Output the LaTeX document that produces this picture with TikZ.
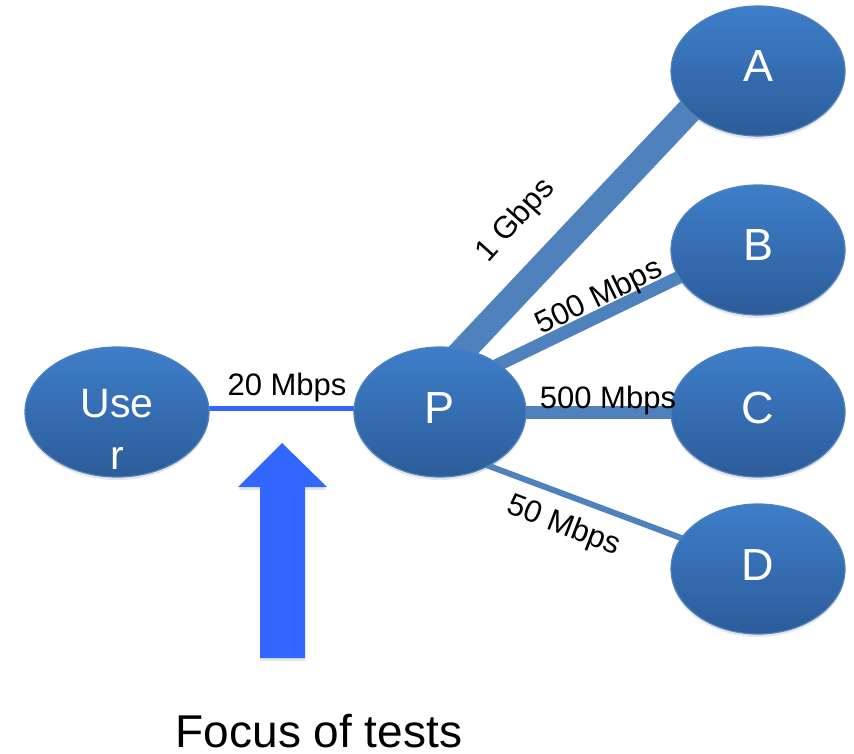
\documentclass[tikz,border=0pt]{standalone}
\usepackage{fontspec}
\setmainfont{Liberation Sans}
\usetikzlibrary{shapes.geometric,backgrounds,shadows}
\definecolor{nodetop}{RGB}{62,126,201}
\definecolor{nodebot}{RGB}{44,92,153}
\definecolor{nodeedge}{RGB}{79,129,189}
\definecolor{linkblue}{RGB}{79,129,189}
\definecolor{brightblue}{RGB}{51,102,255}
\begin{document}
\begin{tikzpicture}[x=1pt,y=-1pt,
  bubble/.style={ellipse, minimum width=174pt, minimum height=130pt,
    inner sep=0pt, outer sep=0pt, top color=nodetop, bottom color=nodebot,
    draw=nodeedge, line width=1.2pt, text=white,
    font=\fontsize{45}{54}\selectfont, text height=32pt, text depth=10pt,
    drop shadow={opacity=0.2, shadow xshift=0pt, shadow yshift=-3pt}},
  usertxt/.style={text=white, font=\fontsize{41}{49}\selectfont, inner sep=0pt, anchor=base},
  link/.style={draw=linkblue, shorten <=-14pt, shorten >=-14pt},
  rate/.style={font=\fontsize{31}{37}\selectfont, inner sep=0pt, anchor=base},
]
\useasboundingbox (0,0) rectangle (854,754);

\node[bubble, minimum width=184pt] (User) at (117,412) {};
\node[bubble, minimum width=172pt] (P) at (440,412) {P};
\node[bubble] (A) at (758,71) {A};
\node[bubble] (B) at (758,250) {B};
\node[bubble] (C) at (758,412) {C};
\node[bubble] (D) at (758,569) {D};

\node[usertxt] (UserL1) at ([yshift=-5pt]User.center) {Use};
\node[usertxt] (UserL2) at ([yshift=-57pt]User.center) {r};

\begin{scope}[on background layer]
  \draw[link, line width=26pt] (P.69) -- (A.210);
  \draw[link, line width=13pt] (P.39) -- (B.199);
  \draw[link, line width=13pt] (P.east) -- (C.west);
  \draw[link, line width=6pt] (P.-48) -- (D.158);
  \draw[draw=brightblue, line width=5pt] ([yshift=4pt]User.east) -- ([yshift=4pt]P.west);
\end{scope}

\node[rate] (l20) at (287,395) {20 Mbps};
\node[rate] (lC) at (608,408) {500 Mbps};
\node[rate, rotate=26] (lB) at (603,305) {500 Mbps};
\node[rate, rotate=48] (lA) at (522,226) {1 Gbps};
\node[rate, rotate=-21] (lD) at (561,534) {50 Mbps};

\fill[brightblue, drop shadow={opacity=0.2, shadow xshift=0pt, shadow yshift=-3pt}]
  (260,658) -- (260,487) -- (238,487) -- (282,443) -- (327,487)
  -- (305,487) -- (305,658) -- cycle;

\node[font=\fontsize{46}{55}\selectfont, anchor=base, inner sep=0pt] (focus) at (319,747) {Focus of tests};
\end{tikzpicture}
\end{document}
